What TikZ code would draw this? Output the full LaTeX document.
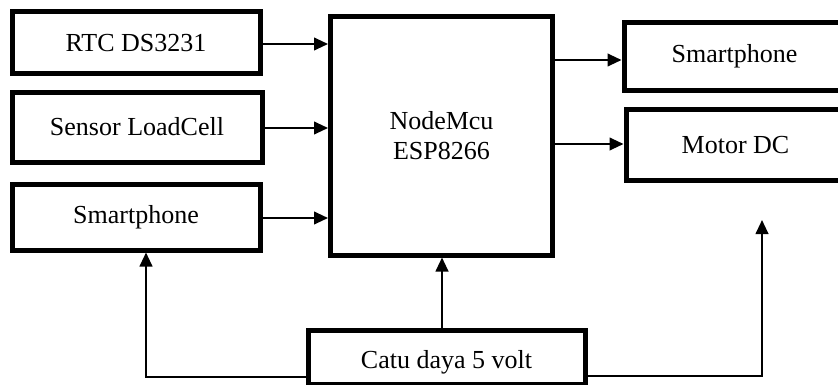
\documentclass[tikz,border=0pt]{standalone}
\usepackage{fontspec}
\setmainfont{Liberation Serif}
\usetikzlibrary{arrows.meta}
\tikzset{
  blk/.style={draw=black, line width=3.75pt, fill=white, inner sep=0pt,
    font=\fontsize{19.5pt}{22.5pt}\selectfont, align=center},
  conn/.style={draw=black, line width=1.5pt, -{Triangle[length=10.5pt,width=9.5pt]}},
  wire/.style={draw=black, line width=1.5pt}
}
\begin{document}
\begin{tikzpicture}[x=0.75pt, y=-0.75pt]
\clip (0,0) rectangle (838,385);
\fill[white] (0,0) rectangle (838,385);
% input blocks
\node[blk, minimum width=186pt, minimum height=46.5pt] (rtc) at (136,43) {RTC DS3231};
\node[blk, minimum width=187.5pt, minimum height=52.5pt] (sen) at (137,127) {Sensor LoadCell};
\node[blk, minimum width=186pt, minimum height=49.5pt] (smL) at (136,217) {Smartphone};
% controller
\node[blk, minimum width=166.5pt, minimum height=178.5pt] (mcu) at (441.5,136) {NodeMcu\\ESP8266};
% output blocks
\node[blk, minimum width=165.75pt, minimum height=51pt] (smR) at (734.5,56.5) {Smartphone};
\node[blk, minimum width=164.25pt, minimum height=53.25pt] (mot) at (735.5,145) {Motor DC};
% power
\node[blk, minimum width=207.75pt, minimum height=40.5pt, text height=16.5pt, text depth=0pt] (catu) at (446.5,357) {Catu daya 5 volt};
% connectors
\draw[conn] (rtc.east |- 0,44) -- (mcu.west |- 0,44);
\draw[conn] (sen.east |- 0,128) -- (mcu.west |- 0,128);
\draw[conn] (smL.east |- 0,218) -- (mcu.west |- 0,218);
\draw[conn] (mcu.east |- 0,60) -- (smR.west |- 0,60);
\draw[conn] (mcu.east |- 0,144) -- (mot.west |- 0,144);
\draw[conn] (catu.north -| 442,0) -- (mcu.south -| 442,0);
\draw[conn] (catu.west |- 0,377) -| (smL.south -| 146,0);
\coordinate (motin) at (762,220);
\draw[conn] (catu.east |- 0,376) -| (motin);
\end{tikzpicture}
\end{document}
